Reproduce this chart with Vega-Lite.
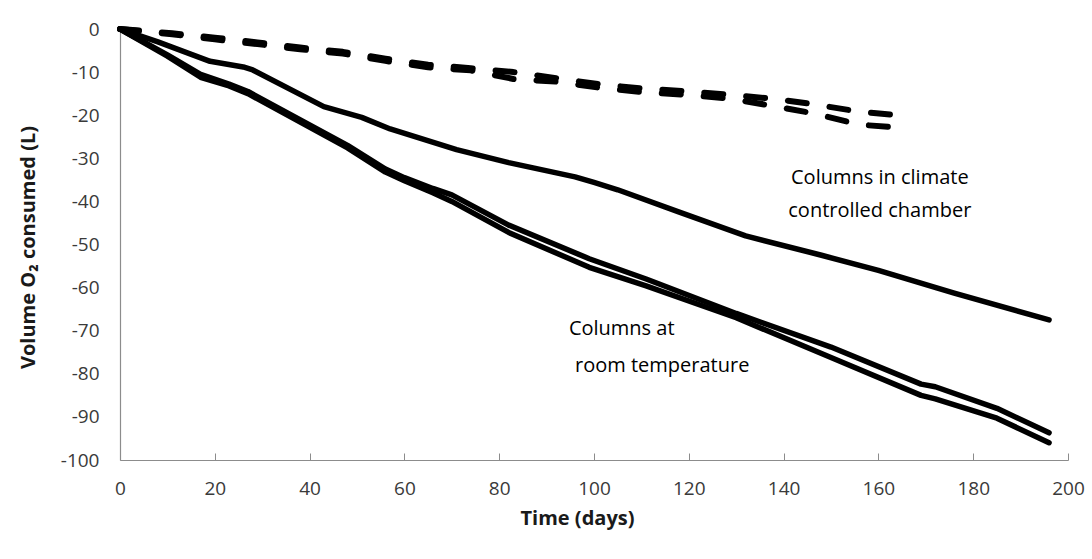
{
  "$schema": "https://vega.github.io/schema/vega-lite/v6.json",
  "width": 948,
  "height": 431,
  "autosize": {"type": "none"},
  "padding": {"left": 120, "top": 29, "right": 24, "bottom": 99},
  "background": "#ffffff",
  "config": {
    "view": {"stroke": null},
    "font": "Open Sans",
    "axis": {
      "grid": false,
      "labelFlush": false,
      "domainColor": "#8c8c8c",
      "domainWidth": 1.2,
      "tickColor": "#8c8c8c",
      "labelFont": "Open Sans",
      "labelFontSize": 19,
      "labelColor": "#3a3a3a",
      "titleFont": "Open Sans",
      "titleFontSize": 20,
      "titleFontWeight": "bold",
      "titleColor": "#1a1a1a"
    }
  },
  "datasets": {
    "o2": [
      {"series": "Chamber A", "kind": "solid", "day": 0, "vol": 0},
      {"series": "Chamber A", "kind": "solid", "day": 8, "vol": -3},
      {"series": "Chamber A", "kind": "solid", "day": 19, "vol": -7.5},
      {"series": "Chamber A", "kind": "solid", "day": 26, "vol": -8.8},
      {"series": "Chamber A", "kind": "solid", "day": 28, "vol": -9.5},
      {"series": "Chamber A", "kind": "solid", "day": 43, "vol": -18},
      {"series": "Chamber A", "kind": "solid", "day": 51, "vol": -20.5},
      {"series": "Chamber A", "kind": "solid", "day": 57, "vol": -23.2},
      {"series": "Chamber A", "kind": "solid", "day": 71, "vol": -28},
      {"series": "Chamber A", "kind": "solid", "day": 82, "vol": -31},
      {"series": "Chamber A", "kind": "solid", "day": 96, "vol": -34.3},
      {"series": "Chamber A", "kind": "solid", "day": 100, "vol": -35.6},
      {"series": "Chamber A", "kind": "solid", "day": 105, "vol": -37.3},
      {"series": "Chamber A", "kind": "solid", "day": 118, "vol": -42.5},
      {"series": "Chamber A", "kind": "solid", "day": 132, "vol": -48},
      {"series": "Chamber A", "kind": "solid", "day": 148, "vol": -52.5},
      {"series": "Chamber A", "kind": "solid", "day": 160, "vol": -56},
      {"series": "Chamber A", "kind": "solid", "day": 176, "vol": -61.3},
      {"series": "Chamber A", "kind": "solid", "day": 196, "vol": -67.5},

      {"series": "Room A", "kind": "solid", "day": 0, "vol": 0},
      {"series": "Room A", "kind": "solid", "day": 10, "vol": -6},
      {"series": "Room A", "kind": "solid", "day": 17, "vol": -10.5},
      {"series": "Room A", "kind": "solid", "day": 23, "vol": -12.8},
      {"series": "Room A", "kind": "solid", "day": 27, "vol": -14.5},
      {"series": "Room A", "kind": "solid", "day": 48, "vol": -27},
      {"series": "Room A", "kind": "solid", "day": 56, "vol": -32.5},
      {"series": "Room A", "kind": "solid", "day": 60, "vol": -34.5},
      {"series": "Room A", "kind": "solid", "day": 66, "vol": -37},
      {"series": "Room A", "kind": "solid", "day": 70, "vol": -38.5},
      {"series": "Room A", "kind": "solid", "day": 82, "vol": -45.5},
      {"series": "Room A", "kind": "solid", "day": 99, "vol": -53.3},
      {"series": "Room A", "kind": "solid", "day": 111, "vol": -58},
      {"series": "Room A", "kind": "solid", "day": 130, "vol": -66},
      {"series": "Room A", "kind": "solid", "day": 150, "vol": -73.8},
      {"series": "Room A", "kind": "solid", "day": 169, "vol": -82.4},
      {"series": "Room A", "kind": "solid", "day": 172, "vol": -83},
      {"series": "Room A", "kind": "solid", "day": 185, "vol": -88},
      {"series": "Room A", "kind": "solid", "day": 196, "vol": -93.7},

      {"series": "Room B", "kind": "solid", "day": 0, "vol": 0},
      {"series": "Room B", "kind": "solid", "day": 10, "vol": -6.3},
      {"series": "Room B", "kind": "solid", "day": 17, "vol": -11.2},
      {"series": "Room B", "kind": "solid", "day": 23, "vol": -13.2},
      {"series": "Room B", "kind": "solid", "day": 27, "vol": -15},
      {"series": "Room B", "kind": "solid", "day": 48, "vol": -27.6},
      {"series": "Room B", "kind": "solid", "day": 56, "vol": -33.2},
      {"series": "Room B", "kind": "solid", "day": 60, "vol": -35.2},
      {"series": "Room B", "kind": "solid", "day": 66, "vol": -38},
      {"series": "Room B", "kind": "solid", "day": 70, "vol": -40},
      {"series": "Room B", "kind": "solid", "day": 82, "vol": -47.2},
      {"series": "Room B", "kind": "solid", "day": 99, "vol": -55.3},
      {"series": "Room B", "kind": "solid", "day": 111, "vol": -59.6},
      {"series": "Room B", "kind": "solid", "day": 130, "vol": -67},
      {"series": "Room B", "kind": "solid", "day": 150, "vol": -76.2},
      {"series": "Room B", "kind": "solid", "day": 169, "vol": -85},
      {"series": "Room B", "kind": "solid", "day": 172, "vol": -85.8},
      {"series": "Room B", "kind": "solid", "day": 185, "vol": -90.3},
      {"series": "Room B", "kind": "solid", "day": 196, "vol": -96},

      {"series": "Control A", "kind": "dashed", "day": 0, "vol": 0},
      {"series": "Control A", "kind": "dashed", "day": 11, "vol": -1},
      {"series": "Control A", "kind": "dashed", "day": 20, "vol": -2},
      {"series": "Control A", "kind": "dashed", "day": 29, "vol": -3.1},
      {"series": "Control A", "kind": "dashed", "day": 38, "vol": -4.3},
      {"series": "Control A", "kind": "dashed", "day": 47, "vol": -5.3},
      {"series": "Control A", "kind": "dashed", "day": 56, "vol": -6.9},
      {"series": "Control A", "kind": "dashed", "day": 65, "vol": -8.3},
      {"series": "Control A", "kind": "dashed", "day": 74, "vol": -9.1},
      {"series": "Control A", "kind": "dashed", "day": 83, "vol": -10},
      {"series": "Control A", "kind": "dashed", "day": 92, "vol": -11.4},
      {"series": "Control A", "kind": "dashed", "day": 101, "vol": -12.8},
      {"series": "Control A", "kind": "dashed", "day": 110, "vol": -13.8},
      {"series": "Control A", "kind": "dashed", "day": 120, "vol": -14.5},
      {"series": "Control A", "kind": "dashed", "day": 129, "vol": -15.3},
      {"series": "Control A", "kind": "dashed", "day": 138, "vol": -16.2},
      {"series": "Control A", "kind": "dashed", "day": 146, "vol": -17.4},
      {"series": "Control A", "kind": "dashed", "day": 156, "vol": -19.2},
      {"series": "Control A", "kind": "dashed", "day": 167, "vol": -20.3},

      {"series": "Control B", "kind": "dashed", "day": 0, "vol": 0},
      {"series": "Control B", "kind": "dashed", "day": 11, "vol": -1.2},
      {"series": "Control B", "kind": "dashed", "day": 20, "vol": -2.4},
      {"series": "Control B", "kind": "dashed", "day": 29, "vol": -3.5},
      {"series": "Control B", "kind": "dashed", "day": 38, "vol": -4.7},
      {"series": "Control B", "kind": "dashed", "day": 47, "vol": -5.7},
      {"series": "Control B", "kind": "dashed", "day": 56, "vol": -7.4},
      {"series": "Control B", "kind": "dashed", "day": 65, "vol": -8.9},
      {"series": "Control B", "kind": "dashed", "day": 74, "vol": -9.6},
      {"series": "Control B", "kind": "dashed", "day": 83, "vol": -11.6},
      {"series": "Control B", "kind": "dashed", "day": 92, "vol": -12.2},
      {"series": "Control B", "kind": "dashed", "day": 101, "vol": -13.6},
      {"series": "Control B", "kind": "dashed", "day": 110, "vol": -14.6},
      {"series": "Control B", "kind": "dashed", "day": 120, "vol": -15.3},
      {"series": "Control B", "kind": "dashed", "day": 129, "vol": -16.2},
      {"series": "Control B", "kind": "dashed", "day": 138, "vol": -17.9},
      {"series": "Control B", "kind": "dashed", "day": 146, "vol": -19.5},
      {"series": "Control B", "kind": "dashed", "day": 156, "vol": -22.2},
      {"series": "Control B", "kind": "dashed", "day": 166, "vol": -23}
    ],
    "centered": [
      {"day": 160.3, "vol": -34.6, "text": "Columns in climate"},
      {"day": 160.3, "vol": -42.3, "text": "controlled chamber"}
    ],
    "leftAligned": [
      {"day": 94.7, "vol": -69.6, "text": "Columns at"},
      {"day": 96.0, "vol": -78.3, "text": "room temperature"}
    ]
  },
  "layer": [
    {
      "data": {"name": "o2"},
      "transform": [{"filter": "datum.kind === 'solid'"}],
      "mark": {"type": "line", "color": "#000000", "strokeWidth": 5.5, "strokeCap": "round", "strokeJoin": "round"},
      "encoding": {
        "x": {
          "field": "day", "type": "quantitative",
          "scale": {"domain": [0, 200], "nice": false, "zero": false},
          "axis": {
            "title": "Time (days)",
            "values": [0, 20, 40, 60, 80, 100, 120, 140, 160, 180, 200],
            "tickSize": -7,
            "labelPadding": 35,
            "labelBaseline": "middle",
            "titleX": 457,
            "titleY": 58,
            "titleBaseline": "middle",
            "titleAnchor": null
          }
        },
        "y": {
          "field": "vol", "type": "quantitative",
          "scale": {"domain": [-100, 0], "nice": false, "zero": false},
          "axis": {
            "title": "Volume O₂ consumed (L)",
            "values": [-100, -90, -80, -70, -60, -50, -40, -30, -20, -10, 0],
            "labelExpr": "replace(datum.label, '−', '-')",
            "ticks": false,
            "labelPadding": 21,
            "titleX": -92,
            "titleY": 218,
            "titleAngle": -90,
            "titleBaseline": "middle",
            "titleAnchor": null
          }
        },
        "detail": {"field": "series"}
      }
    },
    {
      "data": {"name": "o2"},
      "transform": [{"filter": "datum.kind === 'dashed'"}],
      "mark": {"type": "line", "color": "#000000", "strokeWidth": 6, "strokeCap": "round", "strokeJoin": "round", "strokeDash": [19, 23]},
      "encoding": {
        "x": {"field": "day", "type": "quantitative"},
        "y": {"field": "vol", "type": "quantitative"},
        "detail": {"field": "series"}
      }
    },
    {
      "data": {"name": "centered"},
      "mark": {"type": "text", "font": "Open Sans", "fontSize": 20, "color": "#000000", "align": "center", "baseline": "middle"},
      "encoding": {
        "x": {"field": "day", "type": "quantitative"},
        "y": {"field": "vol", "type": "quantitative"},
        "text": {"field": "text"}
      }
    },
    {
      "data": {"name": "leftAligned"},
      "mark": {"type": "text", "font": "Open Sans", "fontSize": 20, "color": "#000000", "align": "left", "baseline": "middle"},
      "encoding": {
        "x": {"field": "day", "type": "quantitative"},
        "y": {"field": "vol", "type": "quantitative"},
        "text": {"field": "text"}
      }
    }
  ]
}
